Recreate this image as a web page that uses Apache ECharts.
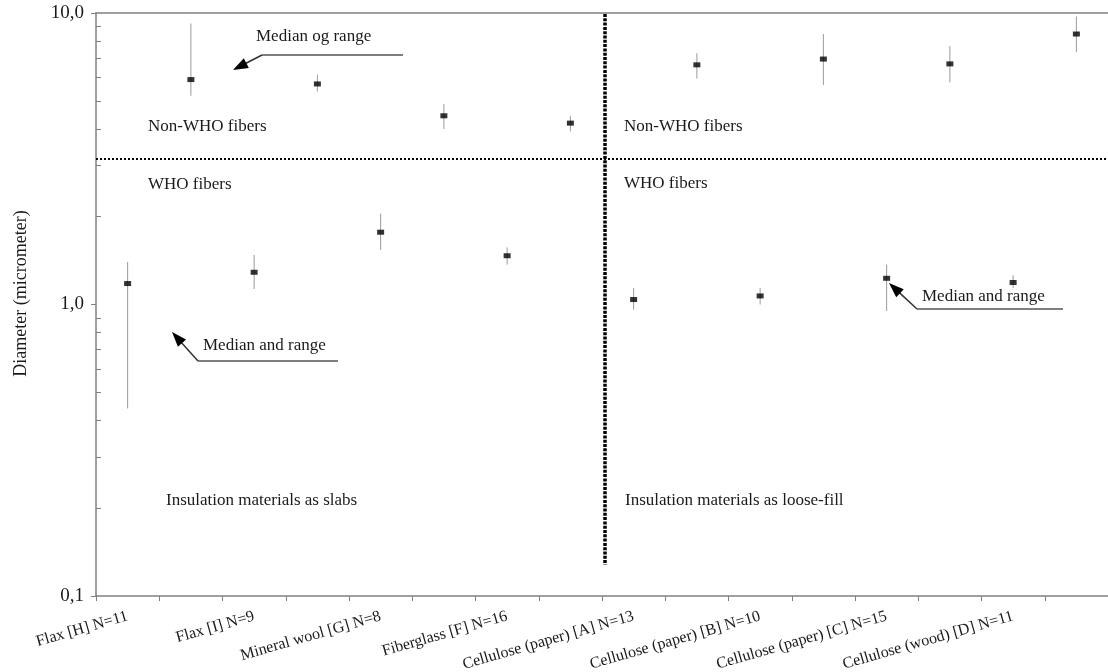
<!DOCTYPE html>
<html>
<head>
<meta charset="utf-8">
<style>
  html, body { margin: 0; padding: 0; background: #fff; }
  #chart { width: 1108px; height: 672px; }
</style>
<script src="https://cdn.jsdelivr.net/npm/echarts@6/dist/echarts.min.js"></script>
</head>
<body>
<div id="chart"></div>
<script>
// Fibre diameter per insulation material: median with min–max range,
// split into WHO fibres and non-WHO fibres.
const materials = [
  'Flax [H] N=11', 'Flax [I] N=9', 'Mineral wool [G] N=8', 'Fiberglass [F] N=16',
  'Cellulose (paper) [A] N=13', 'Cellulose (paper) [B] N=10',
  'Cellulose (paper) [C] N=15', 'Cellulose (wood) [D] N=11'
];
const whoMedian = [1.18, 1.29, 1.77, 1.47, 1.04, 1.07, 1.23, 1.19];
const whoMin    = [0.44, 1.13, 1.54, 1.37, 0.96, 1.00, 0.95, 1.14];
const whoMax    = [1.40, 1.48, 2.05, 1.57, 1.14, 1.14, 1.37, 1.26];
const nonWhoMedian = [5.91, 5.71, 4.44, 4.19, 6.64, 6.95, 6.69, 8.47];
const nonWhoMin    = [5.20, 5.38, 4.00, 3.92, 5.96, 5.66, 5.78, 7.34];
const nonWhoMax    = [9.20, 6.14, 4.87, 4.44, 7.28, 8.47, 7.70, 9.73];
const whoLimit = 3.15;          // boundary drawn between WHO and non-WHO fibres (µm)
const slabCount = 4;            // first four materials are slabs, the rest loose-fill
const minorTickValues = [0.2, 0.3, 0.4, 0.5, 0.6, 0.7, 0.8, 0.9, 2, 3, 4, 5, 6, 7, 8, 9];

// Two slots per material: WHO fibres, then non-WHO fibres.
const slots = [];
materials.forEach(m => { slots.push(m + '|WHO'); slots.push(m + '|non-WHO'); });

const medianData = [];
const rangeData = [];
materials.forEach((m, i) => {
  medianData.push([2 * i, whoMedian[i]]);
  medianData.push([2 * i + 1, nonWhoMedian[i]]);
  rangeData.push([2 * i, whoMin[i], whoMax[i]]);
  rangeData.push([2 * i + 1, nonWhoMin[i], nonWhoMax[i]]);
});

const FONT = "'Liberation Serif', 'Times New Roman', serif";
const TEXT = '#1a1a1a';
const AXIS = '#808080';

const chart = echarts.init(document.getElementById('chart'));

const option = {
  animation: false,
  backgroundColor: '#fff',
  grid: { left: 96, right: 0, top: 13, bottom: 76, outerBoundsMode: 'none', containLabel: false },
  xAxis: [{
    type: 'category',
    data: slots,
    boundaryGap: true,
    axisLine: { lineStyle: { color: AXIS, width: 1.5 } },
    axisTick: { show: true, interval: 0, length: 5, lineStyle: { color: AXIS } },
    axisLabel: {
      interval: (idx) => idx % 2 === 0,
      rotate: 16,
      margin: 20,
      fontFamily: FONT,
      fontSize: 16,
      color: TEXT,
      formatter: (v) => v.split('|')[0]
    },
    splitLine: { show: false }
  }, {
    // top frame line of the plot area
    type: 'category',
    data: slots,
    position: 'top',
    axisLine: { lineStyle: { color: AXIS, width: 1.5 } },
    axisTick: { show: false },
    axisLabel: { show: false },
    splitLine: { show: false }
  }],
  yAxis: [{
    type: 'log',
    logBase: 10,
    min: 0.1,
    max: 10,
    name: 'Diameter (micrometer)',
    nameLocation: 'middle',
    nameGap: 66,
    nameTextStyle: { fontFamily: FONT, fontSize: 18, color: TEXT, padding: [0, 0, 0, 22] },
    axisLine: { show: true, lineStyle: { color: AXIS, width: 1.5 } },
    axisTick: { show: true, length: 5, lineStyle: { color: AXIS } },
    axisLabel: {
      fontFamily: FONT, fontSize: 19, color: TEXT, margin: 12,
      formatter: (v) => Number(v).toFixed(1).replace('.', ',')
    },
    splitLine: { show: false }
  }, {
    // inward minor ticks at 2..9 of each decade
    type: 'log',
    logBase: 10,
    min: 0.1,
    max: 10,
    position: 'left',
    axisLine: { show: false },
    axisTick: { show: true, inside: true, length: 5, customValues: minorTickValues, lineStyle: { color: AXIS } },
    axisLabel: { show: false },
    splitLine: { show: false }
  }],
  series: [{
    name: 'Range',
    type: 'custom',
    data: rangeData,
    encode: { x: 0, y: [1, 2] },
    renderItem: (params, api) => {
      const x = api.value(0);
      const lo = api.coord([x, api.value(1)]);
      const hi = api.coord([x, api.value(2)]);
      return {
        type: 'line',
        shape: { x1: lo[0], y1: lo[1], x2: hi[0], y2: hi[1] },
        style: { stroke: '#9a9a9a', lineWidth: 1 }
      };
    },
    z: 2
  }, {
    name: 'Median',
    type: 'scatter',
    data: medianData,
    symbol: 'rect',
    symbolSize: [7, 5],
    itemStyle: { color: '#000' },
    z: 3,
    markLine: {
      silent: true,
      symbol: 'none',
      label: { show: false },
      lineStyle: { color: '#000', type: [2, 2], width: 2 },
      data: [{ yAxis: whoLimit }]
    }
  }]
};
chart.setOption(option);

// Annotations: divider between slabs and loose-fill, region texts, arrows.
function arrow(tail, tip) {
  const dx = tip[0] - tail[0], dy = tip[1] - tail[1];
  const len = Math.hypot(dx, dy);
  const ux = dx / len, uy = dy / len;
  const L = 15, W = 11;
  const bx = tip[0] - ux * L, by = tip[1] - uy * L;
  const nx = -uy * W / 2, ny = ux * W / 2;
  return [
    { type: 'line', shape: { x1: tail[0], y1: tail[1], x2: bx + ux * 2, y2: by + uy * 2 },
      style: { stroke: '#333', lineWidth: 1.5 } },
    { type: 'polygon', shape: { points: [tip, [bx + nx, by + ny], [bx - nx, by - ny]] },
      style: { fill: '#000' } }
  ];
}
function callout(text, textPos, underline, tip) {
  return [
    { type: 'text', x: textPos[0], y: textPos[1],
      style: { text, font: '17px ' + FONT, fill: TEXT, verticalAlign: 'middle' } },
    { type: 'line', shape: { x1: underline[0], y1: underline[1], x2: underline[2], y2: underline[1] },
      style: { stroke: '#555', lineWidth: 1.5 } },
    ...arrow([underline[0], underline[1]], tip)
  ];
}
function label(text, x, y) {
  return { type: 'text', x, y, style: { text, font: '17px ' + FONT, fill: TEXT, verticalAlign: 'middle' } };
}

const xLeftOfSplit = chart.convertToPixel({ xAxisIndex: 0 }, 2 * slabCount - 1);
const xRightOfSplit = chart.convertToPixel({ xAxisIndex: 0 }, 2 * slabCount);
const splitX = (xLeftOfSplit + xRightOfSplit) / 2 + 3;
const topY = chart.convertToPixel({ yAxisIndex: 0 }, 10);
const bottomY = chart.convertToPixel({ yAxisIndex: 0 }, 0.1);

const graphics = [
  { type: 'line', shape: { x1: splitX, y1: topY + 1, x2: splitX, y2: bottomY - 31 },
    style: { stroke: '#000', lineWidth: 3.5, lineDash: [3, 1.3] }, z: 10 },
  label('Non-WHO fibers', 148, 127),
  label('WHO fibers', 148, 185),
  label('Non-WHO fibers', 624, 127),
  label('WHO fibers', 624, 184),
  label('Insulation materials as slabs', 166, 501),
  label('Insulation materials as loose-fill', 625, 501),
  ...callout('Median og range', [256, 37], [262, 55, 403], [233, 70]),
  ...callout('Median and range', [203, 346], [198, 361, 338], [172, 332]),
  ...callout('Median and range', [922, 297], [917, 309, 1063], [889, 283])
];
chart.setOption({ graphic: graphics });
</script>
</body>
</html>
